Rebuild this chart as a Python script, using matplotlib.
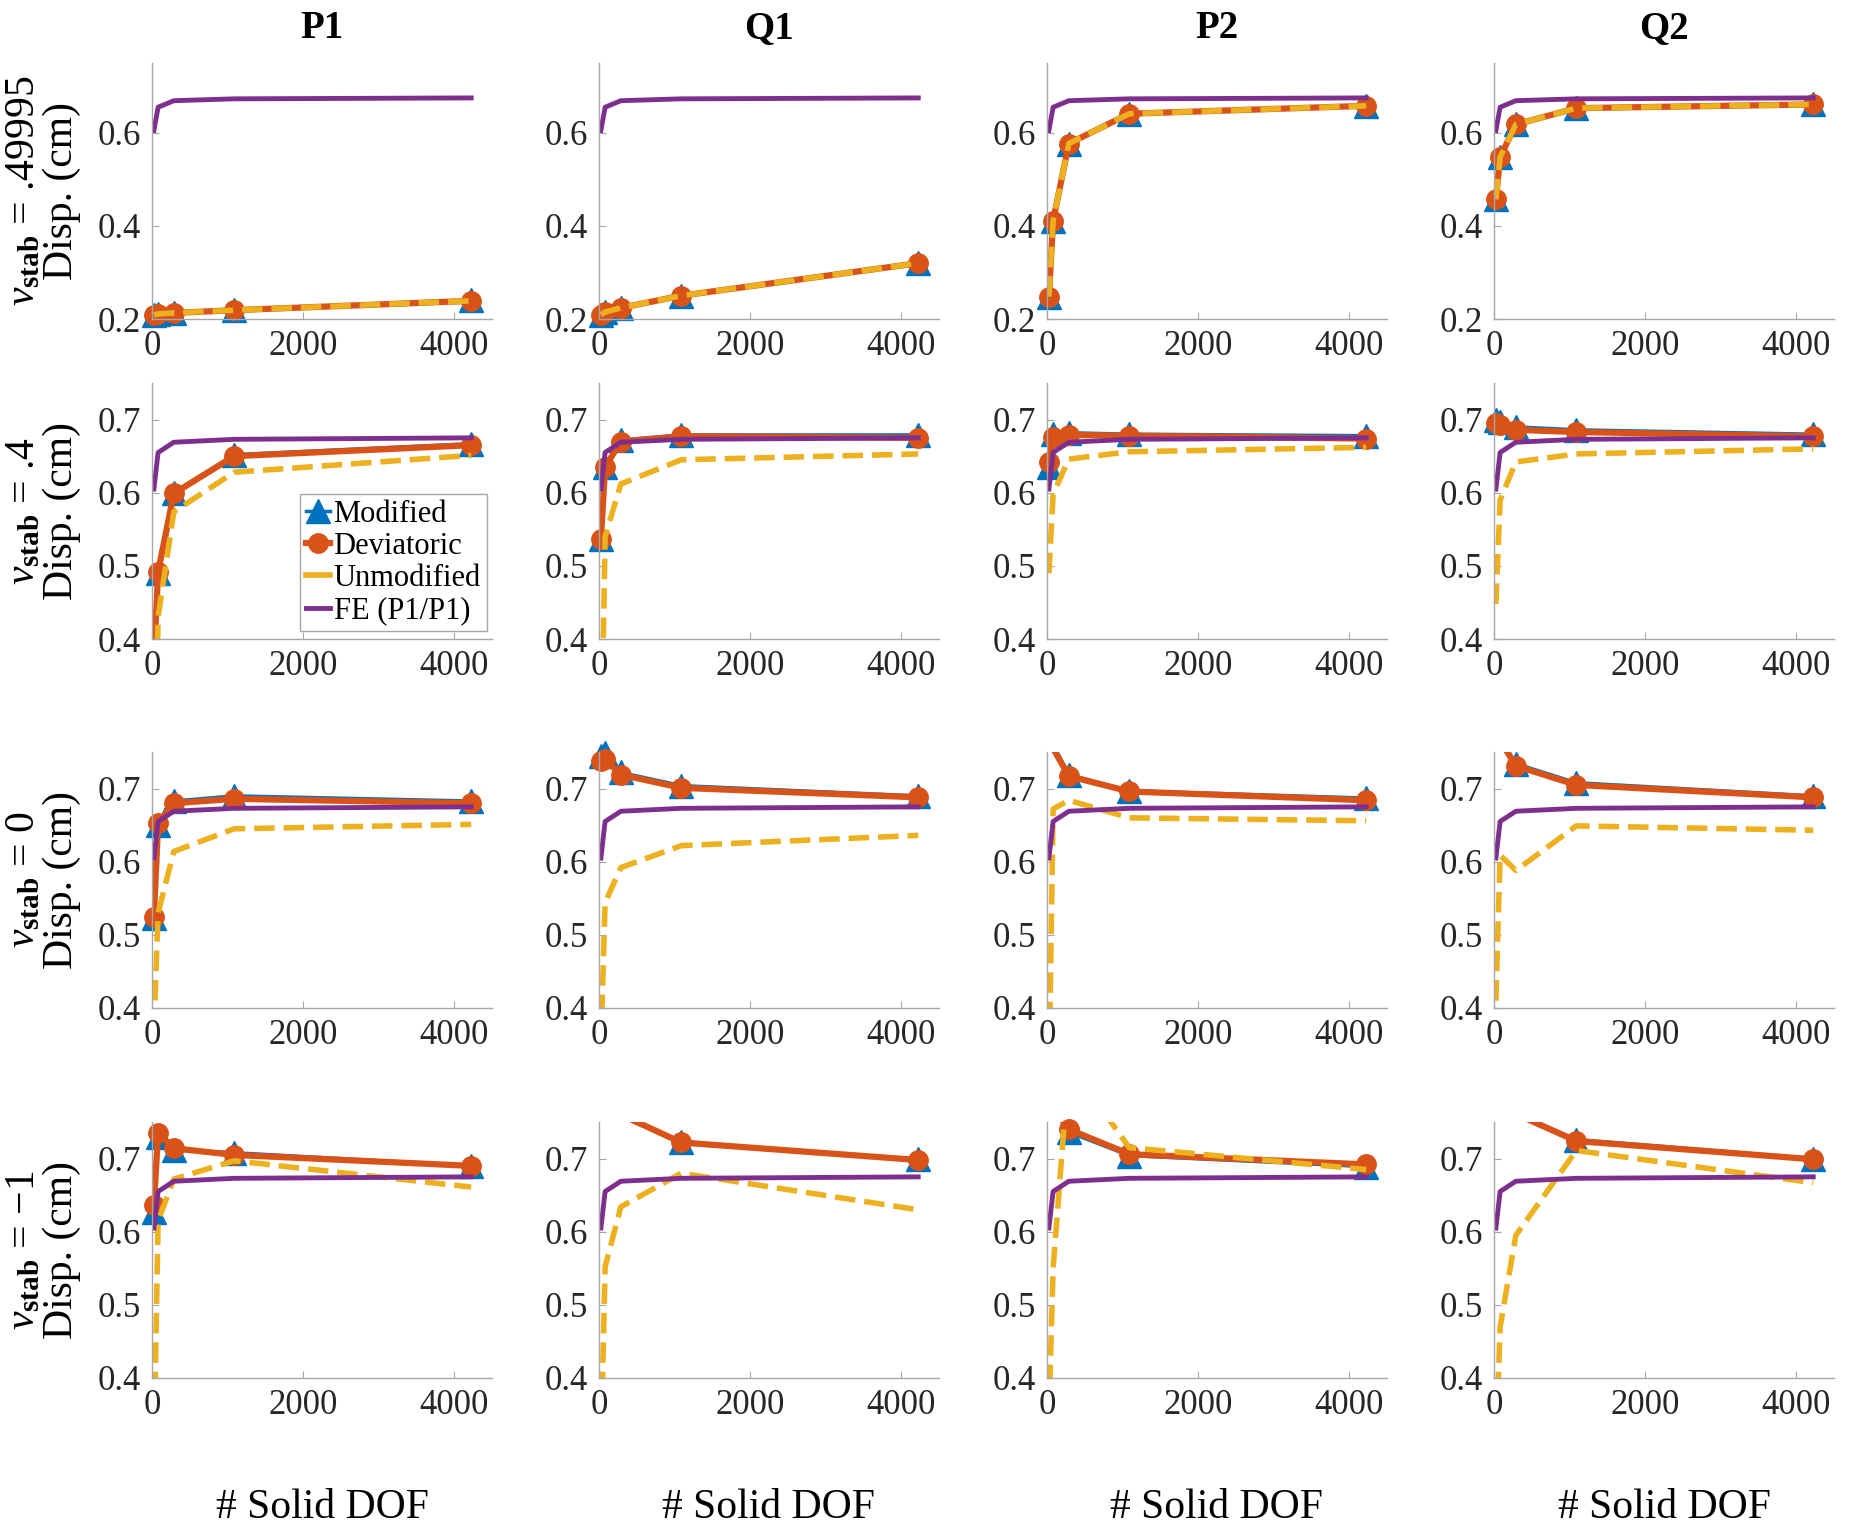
import matplotlib
matplotlib.use('Agg')
import matplotlib.pyplot as plt
from matplotlib.lines import Line2D

plt.rcParams['font.family'] = ['Liberation Serif', 'DejaVu Serif']
plt.rcParams['mathtext.fontset'] = 'custom'
plt.rcParams['mathtext.rm'] = 'Liberation Serif'
plt.rcParams['mathtext.it'] = 'Liberation Serif:italic'
plt.rcParams['mathtext.bf'] = 'Liberation Serif:bold'

# data
dof = [25, 81, 289, 1089, 4225]
fe = [0.605, 0.655, 0.669, 0.673, 0.675]

elements = ['P1', 'Q1', 'P2', 'Q2']
nu_labels = ['.49995', '.4', '0', '\u22121']

# one list per row (nu_stab = .49995, .4, 0, -1)
modified_P1 = [[0.209, 0.211, 0.213, 0.219, 0.240],
               [0.36, 0.490, 0.600, 0.652, 0.667],
               [0.523, 0.650, 0.683, 0.690, 0.683],
               [0.627, 0.730, 0.712, 0.708, 0.690]]
deviatoric_P1 = [[0.209, 0.211, 0.213, 0.219, 0.239],
                 [0.37, 0.492, 0.599, 0.650, 0.665],
                 [0.525, 0.653, 0.680, 0.686, 0.680],
                 [0.637, 0.735, 0.714, 0.705, 0.690]]
unmodified_P1 = [[0.209, 0.211, 0.213, 0.219, 0.239],
                 [0.15, 0.43, 0.574, 0.628, 0.651],
                 [0.37, 0.53, 0.614, 0.645, 0.651],
                 [0.30, 0.615, 0.672, 0.697, 0.661]]

modified_Q1 = [[0.209, 0.215, 0.224, 0.250, 0.320],
               [0.537, 0.635, 0.672, 0.679, 0.679],
               [0.745, 0.748, 0.722, 0.704, 0.690],
               [0.90, 0.80, 0.758, 0.722, 0.699]]
deviatoric_Q1 = [[0.209, 0.215, 0.224, 0.250, 0.320],
                 [0.537, 0.635, 0.670, 0.677, 0.675],
                 [0.738, 0.740, 0.719, 0.701, 0.688],
                 [0.90, 0.80, 0.760, 0.722, 0.698]]
unmodified_Q1 = [[0.209, 0.215, 0.224, 0.250, 0.320],
                 [0.20, 0.54, 0.612, 0.645, 0.653],
                 [0.35, 0.544, 0.592, 0.622, 0.636],
                 [0.30, 0.552, 0.634, 0.680, 0.630]]

modified_P2 = [[0.248, 0.411, 0.577, 0.641, 0.658],
               [0.635, 0.680, 0.682, 0.680, 0.678],
               [0.86, 0.76, 0.719, 0.697, 0.687],
               [0.90, 0.77, 0.736, 0.704, 0.689]]
deviatoric_P2 = [[0.248, 0.411, 0.577, 0.641, 0.658],
                 [0.642, 0.676, 0.679, 0.678, 0.674],
                 [0.85, 0.755, 0.717, 0.696, 0.684],
                 [0.90, 0.77, 0.740, 0.706, 0.692]]
unmodified_P2 = [[0.248, 0.411, 0.577, 0.641, 0.658],
                 [0.49, 0.598, 0.646, 0.656, 0.662],
                 [0.30, 0.672, 0.684, 0.660, 0.656],
                 [0.35, 0.55, 0.83, 0.715, 0.685]]

modified_Q2 = [[0.457, 0.548, 0.618, 0.653, 0.661],
               [0.699, 0.697, 0.690, 0.686, 0.680],
               [0.86, 0.77, 0.734, 0.708, 0.690],
               [0.90, 0.80, 0.762, 0.726, 0.700]]
deviatoric_Q2 = [[0.457, 0.548, 0.618, 0.653, 0.661],
                 [0.695, 0.692, 0.686, 0.683, 0.677],
                 [0.85, 0.766, 0.731, 0.705, 0.688],
                 [0.90, 0.80, 0.761, 0.724, 0.699]]
unmodified_Q2 = [[0.457, 0.548, 0.618, 0.653, 0.661],
                 [0.448, 0.590, 0.642, 0.653, 0.660],
                 [0.41, 0.609, 0.588, 0.649, 0.643],
                 [0.30, 0.47, 0.595, 0.711, 0.667]]

modified = [modified_P1, modified_Q1, modified_P2, modified_Q2]
deviatoric = [deviatoric_P1, deviatoric_Q1, deviatoric_P2, deviatoric_Q2]
unmodified = [unmodified_P1, unmodified_Q1, unmodified_P2, unmodified_Q2]

c_mod = '#0072BD'
c_dev = '#D95319'
c_unm = '#EDB120'
c_fe = '#7E2F8E'

W, H = 1852, 1533
fig = plt.figure(figsize=(W / 100, H / 100), dpi=100)

col_left = [152, 599, 1047, 1494]
row_top = [63, 383, 752, 1122]
aw, ah = 340, 256


def inside(y, lo, hi):
    return [v if lo <= v <= hi else float('nan') for v in y]


for j, el in enumerate(elements):
    for i in range(4):
        ax = fig.add_axes([col_left[j] / W, 1 - (row_top[i] + ah) / H, aw / W, ah / H])
        lo, hi = (0.2, 0.75) if i == 0 else (0.4, 0.75)

        ax.plot(dof, modified[j][i], color=c_mod, lw=2.5)
        ax.plot(dof, inside(modified[j][i], lo, hi), ls='none', marker='^', ms=17,
                color=c_mod, clip_on=False)
        ax.plot(dof, deviatoric[j][i], color=c_dev, lw=4.5)
        ax.plot(dof, inside(deviatoric[j][i], lo, hi), ls='none', marker='o', ms=14,
                color=c_dev, clip_on=False)
        ax.plot(dof, unmodified[j][i], color=c_unm, lw=4, ls='--')
        ax.plot(dof, fe, color=c_fe, lw=3.5)

        ax.set_xlim(0, 4500)
        ax.set_ylim(lo, hi)
        ax.set_xticks([0, 2000, 4000])
        if i == 0:
            ax.set_yticks([0.2, 0.4, 0.6])
        else:
            ax.set_yticks([0.4, 0.5, 0.6, 0.7])
        for s in ['top', 'right']:
            ax.spines[s].set_visible(False)
        for s in ['left', 'bottom']:
            ax.spines[s].set_color('#a6a6a6')
            ax.spines[s].set_linewidth(1.0)
        ax.tick_params(direction='in', length=5, width=0.8, color='#a6a6a6',
                       labelsize=25, labelcolor='#262626', pad=8)

        if i == 0:
            ax.set_title(el, fontsize=28, fontweight='bold', pad=18)
        if i == 3:
            ax.set_xlabel('# Solid DOF', fontsize=30, labelpad=48)
        if j == 0:
            ax.set_ylabel(r'$\nu_{\mathbf{stab}}$ = ' + nu_labels[i] + '\nDisp. (cm)',
                          fontsize=30, labelpad=12, linespacing=0.95)

        if i == 1 and j == 0:
            handles = [Line2D([], [], color=c_mod, lw=2.5, marker='^', ms=17),
                       Line2D([], [], color=c_dev, lw=4.5, marker='o', ms=14),
                       Line2D([], [], color=c_unm, lw=4),
                       Line2D([], [], color=c_fe, lw=3.5)]
            leg = ax.legend(handles, ['Modified', 'Deviatoric', 'Unmodified', 'FE (P1/P1)'],
                            loc='lower right', bbox_to_anchor=(0.985, 0.03), borderaxespad=0,
                            fontsize=22, handlelength=0.8, handletextpad=0.1,
                            borderpad=0.2, labelspacing=0.1, fancybox=False,
                            framealpha=1, edgecolor='#a6a6a6')
            leg.get_frame().set_linewidth(1.0)

fig.savefig('out.png', dpi=100)
